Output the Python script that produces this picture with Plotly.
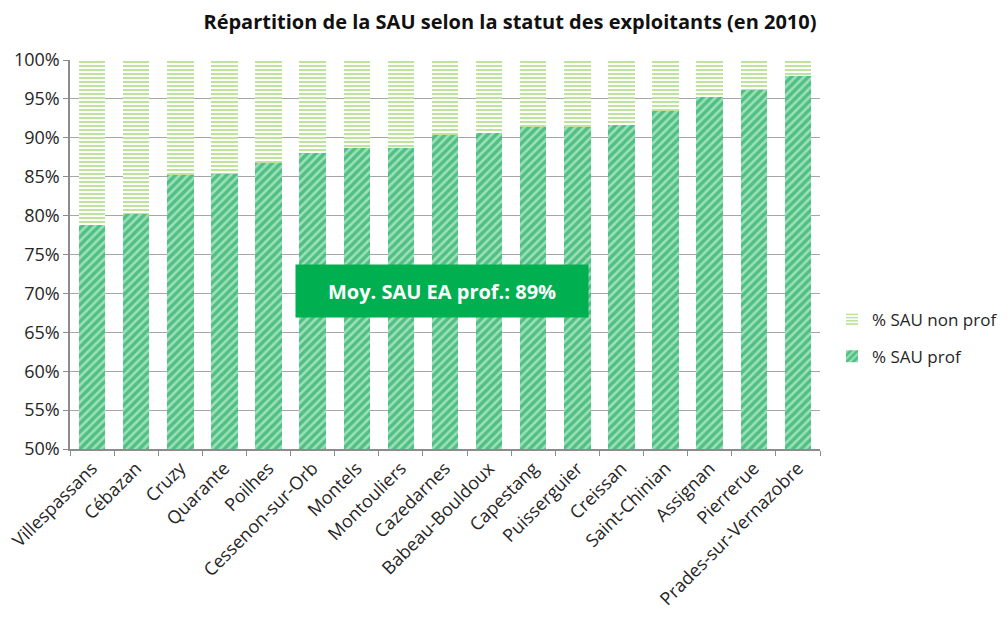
import plotly.graph_objects as go

communes = ["Villespassans", "Cébazan", "Cruzy", "Quarante", "Poilhes", "Cessenon-sur-Orb",
            "Montels", "Montouliers", "Cazedarnes", "Babeau-Bouldoux", "Capestang",
            "Puisserguier", "Creissan", "Saint-Chinian", "Assignan", "Pierrerue",
            "Prades-sur-Vernazobre"]
sau_prof = [78.8, 80.2, 85.2, 85.3, 86.8, 88.0, 88.7, 88.7, 90.4, 90.6, 91.4, 91.4, 91.6,
            93.5, 95.3, 96.2, 98.0]
sau_non_prof = [round(100 - v, 1) for v in sau_prof]
tick_vals = [50, 55, 60, 65, 70, 75, 80, 85, 90, 95, 100]
tick_text = [f"{v}%" for v in tick_vals]

FONT = "Open Sans"

fig = go.Figure()
fig.add_trace(go.Bar(
    x=communes, y=sau_prof, name="% SAU prof", legendgroup="a", legendrank=2,
    marker=dict(color="#ffffff", line=dict(width=0),
                pattern=dict(shape="/", fgcolor="#009e4e", bgcolor="#9ee0b8",
                             size=6, solidity=0.58, fillmode="overlay")),
))
fig.add_trace(go.Bar(
    x=communes, y=sau_non_prof, name="% SAU non prof", legendgroup="b", legendrank=1,
    marker=dict(color="#ffffff", line=dict(width=0),
                pattern=dict(shape="-", fgcolor="#7cca36", bgcolor="#ffffff",
                             size=4, solidity=0.5, fillmode="overlay")),
))

fig.update_layout(
    width=1008, height=619,
    barmode="stack", bargap=0.4,
    plot_bgcolor="white", paper_bgcolor="white",
    margin=dict(l=62, r=196, t=52, b=178),
    font=dict(family=FONT, size=18, color="#262626"),
    title=dict(text="<b>Répartition de la SAU selon la statut des exploitants (en 2010)</b>",
               x=0.498, xanchor="center", y=0.977, yanchor="middle",
               font=dict(family=FONT, size=20, color="#111111")),
    legend=dict(x=1.016, y=0.285, xanchor="left", yanchor="middle",
                traceorder="grouped", font=dict(size=17), tracegroupgap=12),
    annotations=[dict(
        text="<b>Moy. SAU EA prof.: 89%</b>", xref="paper", yref="paper",
        x=0.496, y=0.406, showarrow=False,
        font=dict(family=FONT, size=20, color="white"),
        bgcolor="#00b050", width=292, height=52, borderpad=0,
    )],
)
fig.update_yaxes(range=[50, 100], tickvals=tick_vals, ticktext=tick_text,
                 showgrid=True, gridcolor="#a6a6a6", gridwidth=1,
                 showline=True, linecolor="#8c8c8c", linewidth=1.5,
                 ticks="outside", ticklen=5, tickcolor="#8c8c8c", zeroline=False,
                 automargin=False)
fig.update_xaxes(showline=True, linecolor="#8c8c8c", linewidth=1.5,
                 ticks="outside", ticklen=5, tickcolor="#8c8c8c",
                 tickson="boundaries", tickangle=-45, automargin=False)

fig.write_html("out.html")
